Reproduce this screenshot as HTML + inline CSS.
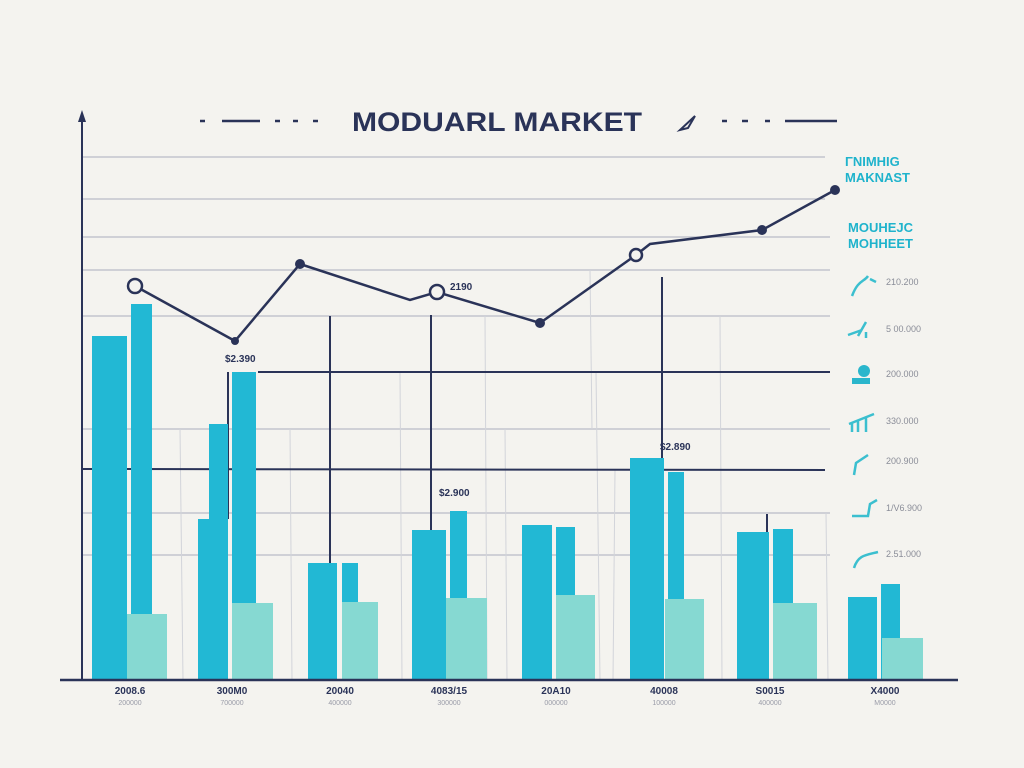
<!DOCTYPE html>
<html><head><meta charset="utf-8"><style>
html,body{margin:0;padding:0;background:#f4f3ef;}
svg{display:block;font-family:"Liberation Sans",sans-serif;}
</style></head><body>
<svg width="1024" height="768" viewBox="0 0 1024 768" xmlns="http://www.w3.org/2000/svg">
<rect width="1024" height="768" fill="#f4f3ef"/>
<g stroke="#b9bcc6" stroke-width="1.3">
<line x1="83" y1="157" x2="825" y2="157"/>
<line x1="83" y1="199" x2="825" y2="199"/>
<line x1="83" y1="237" x2="830" y2="237"/>
<line x1="83" y1="270" x2="830" y2="270"/>
<line x1="83" y1="316" x2="830" y2="316"/>
<line x1="83" y1="429" x2="830" y2="429"/>
<line x1="83" y1="513" x2="830" y2="513"/>
<line x1="83" y1="555" x2="830" y2="555"/>
</g>
<g stroke="#d2d4da" stroke-width="1">
<line x1="180" y1="429" x2="183" y2="680"/><line x1="290" y1="429" x2="292" y2="680"/>
<line x1="400" y1="372" x2="402" y2="680"/><line x1="485" y1="316" x2="487" y2="680"/>
<line x1="505" y1="429" x2="507" y2="680"/><line x1="596" y1="372" x2="600" y2="680"/>
<line x1="615" y1="470" x2="613" y2="680"/><line x1="720" y1="316" x2="722" y2="680"/>
<line x1="826" y1="513" x2="828" y2="680"/><line x1="590" y1="270" x2="592" y2="429"/>
</g>
<line x1="258" y1="372" x2="830" y2="372" stroke="#2a3358" stroke-width="2"/>
<line x1="83" y1="469" x2="825" y2="470" stroke="#2a3358" stroke-width="2"/>
<g stroke="#2a3358" stroke-width="2">
<line x1="330" y1="316" x2="330" y2="563"/>
<line x1="431" y1="315" x2="431" y2="530"/>
<line x1="662" y1="277" x2="662" y2="458"/>
<line x1="767" y1="514" x2="767" y2="532"/>
<line x1="228" y1="372" x2="228" y2="519"/>
</g>
<g fill="#22b8d4">
<rect x="92" y="336" width="35" height="344"/><rect x="131" y="304" width="21" height="376"/>
<rect x="198" y="519" width="30" height="161"/><rect x="209" y="424" width="19" height="100"/><rect x="232" y="372" width="24" height="308"/>
<rect x="308" y="563" width="29" height="117"/><rect x="342" y="563" width="16" height="117"/>
<rect x="412" y="530" width="34" height="150"/><rect x="450" y="511" width="17" height="169"/>
<rect x="522" y="525" width="30" height="155"/><rect x="556" y="527" width="19" height="153"/>
<rect x="630" y="458" width="34" height="222"/><rect x="668" y="472" width="16" height="208"/>
<rect x="737" y="532" width="32" height="148"/><rect x="773" y="529" width="20" height="151"/>
<rect x="848" y="597" width="29" height="83"/><rect x="881" y="584" width="19" height="96"/>
</g>
<g fill="#86d9d2">
<rect x="127" y="614" width="40" height="66"/><rect x="232" y="603" width="41" height="77"/>
<rect x="342" y="602" width="36" height="78"/><rect x="446" y="598" width="41" height="82"/>
<rect x="556" y="595" width="39" height="85"/><rect x="665" y="599" width="39" height="81"/>
<rect x="773" y="603" width="44" height="77"/><rect x="882" y="638" width="41" height="42"/>
</g>
<line x1="82" y1="114" x2="82" y2="680" stroke="#2a3358" stroke-width="2"/>
<path d="M78,122 L82,110 L86,122 Z" fill="#2a3358"/>
<line x1="60" y1="680" x2="958" y2="680" stroke="#2a3358" stroke-width="2.5"/>
<polyline fill="none" stroke="#2a3358" stroke-width="2.5" points="135,286 235,341 300,264 410,300 437,292 540,323 636,255 650,244 762,230 835,190"/>
<g fill="#2a3358"><circle cx="235" cy="341" r="4"/><circle cx="300" cy="264" r="5"/><circle cx="540" cy="323" r="5"/><circle cx="762" cy="230" r="5"/><circle cx="835" cy="190" r="5"/></g>
<g fill="#f4f3ef" stroke="#2a3358" stroke-width="2.5"><circle cx="135" cy="286" r="7"/><circle cx="437" cy="292" r="7"/><circle cx="636" cy="255" r="6"/></g>
<g fill="#2a3358" font-size="10" font-weight="bold">
<text x="225" y="362">$2.390</text><text x="450" y="290">2190</text>
<text x="439" y="496">$2.900</text><text x="660" y="450">$2.890</text>
</g>
<text x="352" y="131" textLength="290" lengthAdjust="spacingAndGlyphs" font-size="27" font-weight="bold" fill="#2a3358">MODUARL MARKET</text>
<g stroke="#2a3358" stroke-width="2.5">
<line x1="200" y1="121" x2="205" y2="121"/><line x1="222" y1="121" x2="260" y2="121"/>
<line x1="275" y1="121" x2="280" y2="121"/><line x1="293" y1="121" x2="298" y2="121"/><line x1="313" y1="121" x2="318" y2="121"/>
<line x1="722" y1="121" x2="727" y2="121"/><line x1="742" y1="121" x2="748" y2="121"/><line x1="765" y1="121" x2="770" y2="121"/>
<line x1="785" y1="121" x2="837" y2="121"/>
</g>
<path d="M680,130 L695,116 L688,128 Z" fill="none" stroke="#2a3358" stroke-width="2"/>
<g fill="#1fb3cc" font-size="13" font-weight="bold">
<text x="845" y="166">ΓNIMHIG</text><text x="845" y="182">MAKNAST</text>
<text x="848" y="232">MOUHEJC</text><text x="848" y="248">MOHHEET</text>
</g>
<g stroke="#3bbfcf" stroke-width="2.5" fill="none">
<path d="M852,296 C858,280 864,282 868,276 M870,279 L876,282"/>
<path d="M848,335 L862,330 M858,336 L866,322 M866,332 L866,338"/>
<path d="M849,424 L874,414 M852,422 L852,432 M858,420 L858,432 M866,418 L866,432"/>
<path d="M854,475 L856,463 L868,455"/>
<path d="M852,516 L868,516 L870,504 L877,500"/>
<path d="M854,568 C858,555 866,555 878,552"/>
</g>
<rect x="852" y="378" width="18" height="6" fill="#2ab6cc"/><circle cx="864" cy="371" r="6" fill="#2ab6cc"/>
<g fill="#8a8d98" font-size="9">
<text x="886" y="285">210.200</text><text x="886" y="332">5 00.000</text><text x="886" y="377">200.000</text>
<text x="886" y="424">330.000</text><text x="886" y="464">200.900</text><text x="886" y="511">1/V6.900</text><text x="886" y="557">2.51.000</text>
</g>
<g fill="#2a3358" font-size="10" font-weight="bold" text-anchor="middle">
<text x="130" y="694">2008.6</text><text x="232" y="694">300M0</text><text x="340" y="694">20040</text><text x="449" y="694">4083/15</text>
<text x="556" y="694">20A10</text><text x="664" y="694">40008</text><text x="770" y="694">S0015</text><text x="885" y="694">X4000</text>
</g>
<g fill="#9a9ca8" font-size="7" text-anchor="middle">
<text x="130" y="705">200000</text><text x="232" y="705">700000</text><text x="340" y="705">400000</text><text x="449" y="705">300000</text>
<text x="556" y="705">000000</text><text x="664" y="705">100000</text><text x="770" y="705">400000</text><text x="885" y="705">M0000</text>
</g>
</svg>
</body></html>
